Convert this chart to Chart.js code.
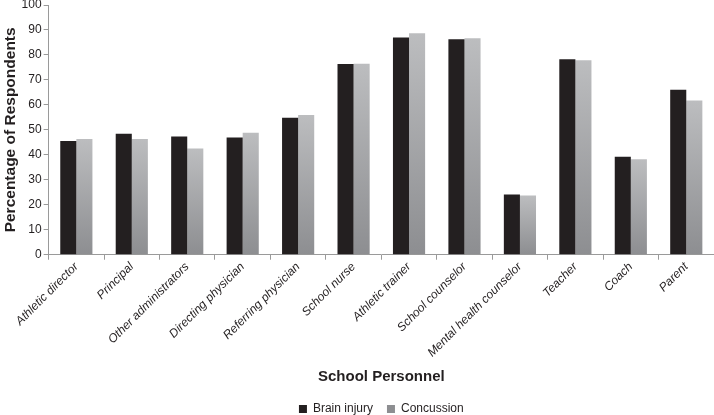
<!DOCTYPE html>
<html>
<head>
<meta charset="utf-8">
<script src="https://cdn.jsdelivr.net/npm/chart.js@4"></script>
<style>
  html, body { margin: 0; padding: 0; background: #fff; }
  #wrap { width: 714px; height: 415px; }
</style>
</head>
<body>
<div id="wrap"><canvas id="personnelChart"></canvas></div>
<script>
const personnel = [
  "Athletic director", "Principal", "Other administrators", "Directing physician",
  "Referring physician", "School nurse", "Athletic trainer", "School counselor",
  "Mental health counselor", "Teacher", "Coach", "Parent"
];
const brainInjury = [45.5, 48.4, 47.3, 46.9, 54.9, 76.4, 87.0, 86.3, 24.1, 78.3, 39.2, 66.1];
const concussion = [46.3, 46.3, 42.5, 48.8, 56.0, 76.5, 88.7, 86.7, 23.7, 77.9, 38.2, 61.8];
const yTicks = [0, 10, 20, 30, 40, 50, 60, 70, 80, 90, 100];

// gray bars fade from light at the top to darker at the base
function grayFill(ctx) {
  if (ctx.type !== 'data') return '#a6a7a9';
  const chart = ctx.chart;
  if (!chart.chartArea) return '#a6a7a9';
  const yScale = chart.scales.y;
  const top = yScale.getPixelForValue(ctx.raw);
  const bottom = yScale.getPixelForValue(0);
  if (!isFinite(top) || bottom - top < 1) return '#a6a7a9';
  const g = chart.ctx.createLinearGradient(0, top, 0, bottom);
  g.addColorStop(0, '#bcbdbf');
  g.addColorStop(1, '#8d8e91');
  return g;
}

// legend sits centred under the plot area, a little lower than the layout puts it
const centerLegend = {
  id: 'centerLegend',
  afterLayout(chart) {
    const lg = chart.legend;
    if (!lg || !chart.chartArea) return;
    const shift = (chart.chartArea.left + chart.chartArea.right) / 2 - (lg.left + lg.right) / 2;
    lg.left += shift;
    lg.right += shift;
    lg.top += 3;
    lg.bottom += 3;
  }
};

new Chart(document.getElementById('personnelChart'), {
  type: 'bar',
  data: {
    labels: personnel,
    datasets: [{
      label: 'Brain injury',
      data: brainInjury,
      backgroundColor: '#231f20',
      borderWidth: 0,
      barPercentage: 1.0,
      categoryPercentage: 0.58
    }, {
      label: 'Concussion',
      data: concussion,
      backgroundColor: grayFill,
      borderWidth: 0,
      barPercentage: 1.0,
      categoryPercentage: 0.58
    }]
  },
  plugins: [centerLegend],
  options: {
    responsive: true,
    maintainAspectRatio: false,
    animation: false,
    layout: { padding: { top: 0, right: 0, bottom: -7, left: 1 } },
    plugins: {
      tooltip: { enabled: false },
      legend: {
        position: 'bottom',
        labels: {
          boxWidth: 8,
          boxHeight: 8,
          padding: 14,
          color: '#231f20',
          font: { family: 'Liberation Sans', size: 12 }
        }
      }
    },
    scales: {
      x: {
        grid: {
          offset: true,
          drawOnChartArea: false,
          drawTicks: true,
          tickLength: 5,
          color: '#9a9a9a'
        },
        border: { color: '#9a9a9a' },
        ticks: {
          minRotation: 45,
          maxRotation: 45,
          color: '#231f20',
          padding: 0,
          font: { family: 'Liberation Sans', size: 12, style: 'italic' }
        },
        title: {
          display: true,
          text: 'School Personnel',
          color: '#231f20',
          padding: { top: 8, bottom: 0 },
          font: { family: 'Liberation Sans', size: 15, weight: 'bold' }
        }
      },
      y: {
        min: 0,
        max: 100,
        afterBuildTicks: axis => { axis.ticks = yTicks.map(v => ({ value: v })); },
        afterFit: axis => { axis.paddingTop = 5; },
        grid: {
          drawOnChartArea: false,
          drawTicks: true,
          tickLength: 5,
          color: '#9a9a9a'
        },
        border: { color: '#9a9a9a' },
        ticks: {
          color: '#231f20',
          padding: 2,
          font: { family: 'Liberation Sans', size: 12 }
        },
        title: {
          display: true,
          text: 'Percentage of Respondents',
          color: '#231f20',
          padding: { top: 0, bottom: 0 },
          font: { family: 'Liberation Sans', size: 15.5, weight: 'bold' }
        }
      }
    }
  }
});
</script>
</body>
</html>
